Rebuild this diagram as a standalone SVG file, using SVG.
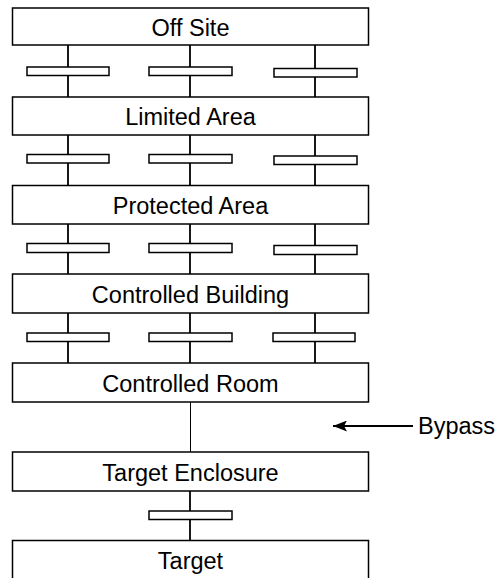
<svg xmlns="http://www.w3.org/2000/svg" width="497" height="578" viewBox="0 0 497 578">
<style>
.box{fill:#fff;stroke:#000;stroke-width:1.5}
.bar{fill:#fff;stroke:#000;stroke-width:1.5}
.lbl{font-family:"Liberation Sans",Arial,sans-serif;font-size:23.5px;fill:#000;text-anchor:middle}
.con{stroke:#000;stroke-width:1.8;fill:none}
.thin{stroke:#000;stroke-width:1;fill:none}
</style>
<defs>
<marker id="ah" viewBox="0 0 14 11" refX="14" refY="5.5" markerWidth="14" markerHeight="11" markerUnits="userSpaceOnUse" orient="auto">
<path d="M0,0 L14,5.5 L0,11 L3,5.5 Z" fill="#000"/>
</marker>
</defs>
<g id="connectors">
<path class="con" d="M68,45V97M190,45V97M315,45V97"/>
<path class="con" d="M68,135V185.5M190,135V185.5M315,135V185.5"/>
<path class="con" d="M68,224V274M190,224V274M315,224V274"/>
<path class="con" d="M68,313V363M190,313V363M315,313V363"/>
<path class="thin" d="M190.5,402V452"/>
<path class="con" d="M190,491V540.5"/>
<path d="M413,426H333" stroke="#000" stroke-width="2.2" fill="none" marker-end="url(#ah)"/>
</g>
<g id="barriers">
<rect id="b11" class="bar" x="27" y="67" width="82" height="8.5"/>
<rect id="b12" class="bar" x="149" y="67" width="83" height="8.5"/>
<rect id="b13" class="bar" x="274" y="68.5" width="83" height="8.5"/>
<rect id="b21" class="bar" x="27" y="154.5" width="82" height="8.5"/>
<rect id="b22" class="bar" x="149" y="154.5" width="83" height="8.5"/>
<rect id="b23" class="bar" x="274" y="156" width="83" height="8.5"/>
<rect id="b31" class="bar" x="27" y="243.5" width="82" height="9"/>
<rect id="b32" class="bar" x="149" y="243.5" width="83" height="9"/>
<rect id="b33" class="bar" x="274" y="245.5" width="83" height="9"/>
<rect id="b41" class="bar" x="27" y="333" width="82" height="8.5"/>
<rect id="b42" class="bar" x="149" y="333" width="83" height="8.5"/>
<rect id="b43" class="bar" x="273" y="333" width="82" height="8.5"/>
<rect id="b51" class="bar" x="149" y="511" width="83" height="8.5"/>
</g>
<g id="off-site"><rect class="box" x="12.5" y="8" width="356" height="37"/><text class="lbl" x="190.5" y="36">Off Site</text></g>
<g id="limited-area"><rect class="box" x="12.5" y="97" width="356" height="38"/><text class="lbl" x="190.5" y="125">Limited Area</text></g>
<g id="protected-area"><rect class="box" x="12.5" y="185.5" width="356" height="38.5"/><text class="lbl" x="190.5" y="214">Protected Area</text></g>
<g id="controlled-building"><rect class="box" x="12.5" y="274" width="356" height="39"/><text class="lbl" x="190.5" y="302.5">Controlled Building</text></g>
<g id="controlled-room"><rect class="box" x="12.5" y="363" width="356" height="39"/><text class="lbl" x="190.5" y="391.5">Controlled Room</text></g>
<g id="target-enclosure"><rect class="box" x="12.5" y="452" width="356" height="39"/><text class="lbl" x="190.5" y="480.5">Target Enclosure</text></g>
<g id="target"><rect class="box" x="12.5" y="540.5" width="356" height="45"/><text class="lbl" x="190.5" y="569">Target</text></g>
<g id="bypass"><text x="418" y="434" font-family="'Liberation Sans',Arial,sans-serif" font-size="23.5" fill="#000">Bypass</text></g>
</svg>
